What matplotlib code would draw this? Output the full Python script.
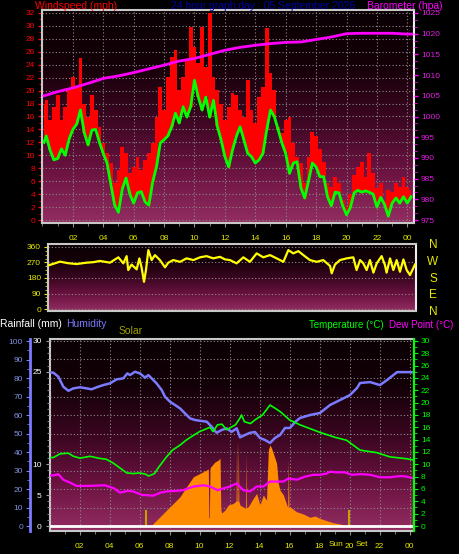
import numpy as np
import matplotlib
matplotlib.use('Agg')
from matplotlib import pyplot as plt
from matplotlib.colors import LinearSegmentedColormap
from matplotlib.ticker import MultipleLocator

W, H = 460, 554

# ---------------- data ----------------
# wind (mph), sampled every quarter hour
wind_hr = [0.1, 0.25, 0.5, 0.75, 1.0, 1.25, 1.5, 1.75, 2.0, 2.25, 2.5, 2.75, 3.0, 3.25, 3.5, 3.75,
           4.0, 4.25, 4.5, 4.75, 5.0, 5.25, 5.5, 5.75, 6.0, 6.25, 6.5, 6.75, 7.0, 7.25, 7.5, 7.75,
           8.0, 8.25, 8.5, 8.75, 9.0, 9.25, 9.5, 9.75, 10.0, 10.25, 10.5, 10.75, 11.0, 11.25, 11.5, 11.75,
           12.0, 12.25, 12.5, 12.75, 13.0, 13.25, 13.5, 13.75, 14.0, 14.25, 14.5, 14.75, 15.0, 15.25, 15.5, 15.75,
           16.0, 16.25, 16.5, 16.75, 17.0, 17.25, 17.5, 17.75, 18.0, 18.25, 18.5, 18.75, 19.0, 19.25, 19.5, 19.75,
           20.0, 20.25, 20.5, 20.75, 21.0, 21.25, 21.5, 21.75, 22.0, 22.25, 22.5, 22.75, 23.0, 23.25, 23.5, 23.75,
           24.0, 24.25]
wind_avg = [12.0, 13.0, 10.8, 9.3, 9.5, 11.0, 10.0, 12.5, 14.0, 14.8, 17.0, 13.5, 11.6, 13.9, 14.0, 12.0,
            10.3, 8.8, 5.5, 2.3, 1.2, 4.8, 6.5, 4.0, 2.6, 4.2, 4.4, 2.8, 2.3, 5.9, 8.2, 11.9,
            12.4, 13.0, 14.4, 16.5, 15.0, 17.5, 15.9, 17.5, 21.6, 19.0, 17.0, 19.0, 15.9, 18.5, 14.5, 12.4,
            9.8, 8.2, 10.8, 12.9, 14.4, 12.4, 10.3, 9.8, 8.8, 9.3, 10.3, 13.9, 17.0, 16.0, 14.0, 11.9,
            10.3, 7.2, 8.8, 9.0, 5.0, 3.4, 6.0, 8.8, 8.2, 6.7, 6.7, 3.6, 2.2, 4.3, 4.2, 2.2,
            0.8, 1.9, 4.2, 4.6, 4.3, 4.5, 4.3, 4.0, 2.0, 3.5, 2.4, 0.6, 2.6, 3.4, 2.6, 3.6,
            2.6, 3.6]
wind_gust = [18.0, 18.5, 15.5, 17.5, 19.3, 15.5, 17.5, 20.1, 22.1, 20.5, 25.0, 18.0, 15.9, 19.3, 17.0, 14.4,
             11.9, 10.3, 8.8, 5.7, 7.7, 11.3, 10.3, 7.2, 8.2, 9.8, 7.7, 9.3, 10.3, 11.9, 15.9, 20.6,
             17.0, 22.1, 25.2, 26.3, 20.1, 22.1, 24.7, 29.8, 26.7, 24.3, 29.8, 23.7, 32.0, 22.1, 20.1, 18.0,
             15.5, 17.5, 19.6, 19.3, 17.0, 15.9, 21.6, 17.0, 15.0, 19.0, 20.6, 29.7, 22.7, 20.1, 14.4, 13.4,
             15.5, 15.9, 11.9, 9.8, 8.8, 5.7, 9.8, 13.6, 13.0, 11.0, 9.0, 5.7, 5.1, 6.7, 5.7, 3.1,
             2.0, 4.0, 7.0, 8.2, 9.0, 6.7, 10.3, 7.2, 5.0, 5.7, 3.0, 4.6, 4.4, 5.7, 5.1, 6.7,
             5.1, 4.6]

# barometer (hPa)
baro_hr = [0.1, 1, 2, 3, 4, 5, 6, 7, 8, 9, 10, 11, 12, 13, 14, 15, 16, 17, 18, 19, 20, 21, 22, 23, 24, 24.3]
baro = [1005.0, 1006.0, 1006.9, 1008.0, 1009.2, 1009.8, 1010.6, 1011.5, 1012.4, 1013.4, 1014.0, 1015.0,
        1016.0, 1016.7, 1017.2, 1017.6, 1017.9, 1018.0, 1018.6, 1019.2, 1020.0, 1020.1, 1020.1, 1020.1,
        1019.9, 1019.9]

# wind direction (degrees)
dir_hr = [0.05, 0.21, 0.77, 1.3, 1.88, 2.54, 3.0, 3.43, 4.1, 4.66, 4.99, 5.21, 5.32, 5.54, 5.88, 6.06,
          6.21, 6.37, 6.5, 6.66, 6.88, 7.1, 7.43, 7.77, 7.99, 8.32, 8.77, 9.21, 9.66, 10.1, 10.54, 10.99,
          11.43, 11.77, 12.1, 12.54, 12.99, 13.43, 13.88, 14.32, 14.77, 15.21, 15.66, 15.99, 16.32, 16.66,
          16.99, 17.43, 17.88, 18.32, 18.77, 18.88, 19.1, 19.43, 19.88, 20.32, 20.54, 20.77, 20.99, 21.21,
          21.43, 21.66, 21.88, 22.21, 22.43, 22.54, 22.77, 22.99, 23.21, 23.43, 23.66, 23.88, 24.1, 24.28, 24.43]
dir_deg = [255, 259, 275, 266, 261, 269, 272, 279, 269, 300, 265, 307, 226, 258, 230, 294,
           240, 158, 226, 342, 284, 313, 284, 242, 269, 284, 274, 294, 284, 300, 307, 294,
           303, 288, 284, 265, 300, 274, 323, 300, 313, 294, 274, 342, 323, 336,
           313, 284, 274, 284, 250, 207, 258, 284, 294, 300, 226, 284, 265, 226,
           284, 211, 265, 307, 255, 211, 294, 226, 284, 216, 288, 226, 197, 230, 258]

# humidity (%)
hum_hr = [0.0, 0.26, 0.59, 0.92, 1.26, 1.59, 2.03, 2.48, 2.81, 3.14, 3.59, 4.03, 4.48, 4.92, 5.19, 5.37,
          5.7, 6.03, 6.37, 6.59, 6.81, 7.14, 7.48, 7.7, 8.03, 8.37, 8.7, 9.03, 9.37, 9.7, 10.03, 10.48,
          10.81, 11.14, 11.48, 11.81, 12.14, 12.48, 12.7, 13.03, 13.37, 13.7, 14.03, 14.37, 14.7, 15.03,
          15.37, 15.7, 16.03, 16.37, 16.7, 17.37, 18.03, 18.7, 19.37, 20.03, 20.5, 20.7, 21.37, 22.03,
          22.5, 23.17, 24.03, 24.25]
humidity = [83.0, 82.9, 80.7, 75.3, 73.1, 74.4, 75.0, 74.4, 73.9, 75.0, 76.2, 77.1, 79.3, 79.8, 82.5, 81.6,
            83.4, 82.5, 80.2, 81.6, 79.8, 77.1, 73.5, 69.9, 67.2, 65.4, 63.6, 60.9, 58.2, 57.3, 56.9, 56.4,
            53.7, 50.4, 51.9, 52.8, 50.9, 52.8, 47.9, 49.2, 50.4, 50.8, 47.6, 46.5, 44.9, 47.6,
            49.2, 53.0, 53.0, 56.2, 58.4, 60.0, 61.1, 65.4, 68.1, 70.8, 74.6, 77.3, 77.8, 76.2,
            78.9, 83.2, 83.2, 83.0]

# temperature (degC)
temp_hr = [0.0, 0.26, 0.7, 1.26, 1.59, 2.03, 2.7, 3.25, 3.8, 4.25, 4.7, 5.15, 5.6, 6.0, 6.4, 6.6,
           7.0, 7.3, 7.8, 8.2, 8.7, 9.1, 9.6, 10.0, 10.5, 10.7, 10.9, 11.2, 11.5, 11.8, 12.1, 12.4,
           12.7, 12.8, 13.0, 13.4, 13.7, 14.2, 14.7, 15.03, 15.4, 16.0, 16.7, 18.0, 19.0, 19.8, 20.7,
           21.8, 22.7, 23.8, 24.25]
temperature = [11.1, 11.1, 11.7, 11.8, 11.3, 11.0, 11.3, 11.0, 10.8, 10.2, 9.4, 8.6, 8.5, 8.6, 8.4, 8.1,
               8.5, 9.6, 11.2, 12.3, 13.1, 13.9, 14.7, 15.3, 15.8, 16.0, 15.3, 16.4, 16.5, 15.6, 16.0, 16.4,
               17.5, 18.0, 16.9, 16.6, 17.2, 18.0, 19.6, 19.1, 18.5, 17.2, 16.4, 15.2, 14.4, 13.9, 12.3,
               11.9, 11.2, 10.9, 10.7]

# dew point (degC)
dew_hr = [0.0, 0.26, 0.59, 0.92, 1.4, 1.8, 2.6, 3.7, 4.3, 4.7, 5.2, 5.6, 6.2, 6.5, 6.9, 7.4,
          7.8, 8.5, 8.9, 9.6, 10.3, 10.7, 11.2, 11.6, 12.03, 12.48, 12.92, 13.37, 13.81, 14.26, 14.7,
          15.14, 15.59, 15.92, 16.48, 17.03, 17.59, 18.03, 18.48, 18.7, 19.14, 19.7, 20.14, 20.81, 21.37,
          22.03, 22.7, 23.37, 23.81, 24.14, 24.25]
dew_point = [8.2, 8.2, 8.4, 7.5, 7.0, 6.5, 6.5, 6.6, 6.1, 5.4, 5.7, 5.6, 5.0, 5.0, 4.9, 5.4,
             5.6, 5.7, 5.8, 6.4, 6.6, 6.4, 5.8, 6.1, 6.4, 6.9, 5.8, 5.6, 6.4, 6.4, 7.2,
             7.2, 7.2, 7.7, 7.5, 8.0, 8.3, 8.3, 8.5, 8.8, 8.7, 8.7, 8.3, 8.4, 8.3,
             7.9, 7.9, 8.1, 8.0, 7.8, 7.8]

# solar radiation (W/m2)
solar_hr = [6.81, 7.37, 7.81, 8.26, 8.7, 9.14, 9.59, 10.03, 10.48, 10.59, 10.62, 10.66, 10.7, 10.74, 11.03,
            11.26, 11.37, 11.42, 11.48, 11.7, 11.92, 12.25, 12.44, 12.47, 12.5, 12.56, 12.59, 12.62, 12.7,
            13.03, 13.07, 13.1, 13.13, 13.25, 13.59, 13.81, 14.03, 14.25, 14.47, 14.59, 14.7, 14.81,
            14.92, 15.14, 15.25, 15.36, 15.59, 15.88, 15.92, 15.96, 16.03, 16.47, 16.92, 17.36, 17.7,
            18.03, 18.47, 18.92, 19.36, 19.59, 19.8]
solar = [5, 50, 86, 122, 158, 212, 266, 284, 303, 308, 43, 46, 313, 319, 346,
         356, 368, 90, 70, 86, 113, 122, 135, 465, 135, 135, 465, 135, 113,
         97, 97, 395, 97, 104, 150, 176, 113, 167, 140, 411, 438, 420,
         393, 339, 232, 195, 168, 100, 357, 100, 104, 77, 65, 47, 54,
         41, 29, 18, 11, 4, 0]

rain_hr = [0.0, 24.25]
rain = [0.0, 0.0]

hour_ticks = [2, 4, 6, 8, 10, 12, 14, 16, 18, 20, 22, 24]
hour_labels = ['02', '04', '06', '08', '10', '12', '14', '16', '18', '20', '22', '00']
sunrise_hr, sunset_hr = 6.41, 19.97

# ---------------- style ----------------
BG = LinearSegmentedColormap.from_list('bg', ['#932d62', '#6a1240', '#3a0620', '#140008', '#0a0004'])
FRAME = '#c8c8c8'
GRIDC = '#8a8a8a'
YELLOW = '#e8e800'
FONT = 'Liberation Sans'

plt.rcParams['font.family'] = FONT


def px_rect(x0, y0, x1, y1):
    return [x0 / W, 1 - y1 / H, (x1 - x0) / W, (y1 - y0) / H]


def ftext(x, y, s, color, size=7.5, ha='left', va='center'):
    fig.text(x / W, 1 - y / H, s, color=color, fontsize=size, ha=ha, va=va)


def panel(rect):
    ax = fig.add_axes(rect)
    grad = np.linspace(0, 1, 256).reshape(-1, 1)
    ax.imshow(grad, extent=[0, 1, 0, 1], transform=ax.transAxes, cmap=BG,
              aspect='auto', origin='lower', zorder=0, interpolation='nearest')
    ax.set_facecolor('black')
    for s in ax.spines.values():
        s.set_color(FRAME)
        s.set_linewidth(1.5)
    ax.spines['right'].set_color('#eeeeee')
    return ax


def hide_ticks(ax):
    ax.tick_params(left=False, right=False, top=False, bottom=False,
                   labelleft=False, labelright=False, labelbottom=False, labeltop=False)
    for s in ax.spines.values():
        s.set_visible(False)
    ax.patch.set_visible(False)


fig = plt.figure(figsize=(W / 100, H / 100), dpi=100, facecolor='black')

# ---------------- wind / barometer ----------------
ax1 = panel(px_rect(42, 10, 414, 223))
ax1.fill_between(wind_hr, wind_avg, wind_gust, step='mid', color='#ff0000', lw=0, zorder=2)
ax1.plot(wind_hr, wind_avg, color='#00ff00', lw=2, zorder=3)
ax1.set_xlim(-0.03, 24.44)
ax1.set_ylim(-0.46, 32.46)
ax1.set_xticks(hour_ticks)
ax1.set_xticklabels(hour_labels)
ax1.xaxis.set_minor_locator(MultipleLocator(1))
ax1.set_yticks(range(0, 33, 2))
ax1.yaxis.set_minor_locator(MultipleLocator(1))
ax1.grid(True, which='major', color=GRIDC, linestyle=(0, (1, 2)), linewidth=0.8)
ax1.tick_params(axis='y', colors='#ff0000', labelsize=6, length=3, width=1, pad=2)
ax1.tick_params(axis='y', which='minor', colors='#ff0000', length=2)
ax1.tick_params(axis='x', colors='#909090', labelcolor=YELLOW, labelsize=6, length=3, pad=6)
ax1.tick_params(axis='x', which='minor', colors='#909090', length=2)

ax1b = ax1.twinx()
ax1b.plot(baro_hr, baro, color='#ff00ff', lw=2)
ax1b.set_ylim(975 - 0.46 * 1.5625, 975 + 32.46 * 1.5625)
ax1b.set_yticks(range(975, 1026, 5))
ax1b.yaxis.set_minor_locator(MultipleLocator(5 / 3))
ax1b.tick_params(axis='y', colors='#ff00ff', labelcolor='#e020e0', labelsize=6, length=3, width=1, pad=2)
ax1b.tick_params(axis='y', which='minor', colors='#ff00ff', length=2)
for s in ax1b.spines.values():
    s.set_visible(False)

# ---------------- wind direction ----------------
ax2 = panel(px_rect(48, 244, 416, 311))
ax2.plot(dir_hr, dir_deg, color='#ffff00', lw=1.6, zorder=3)
ax2.set_xlim(-0.03, 24.5)
ax2.set_ylim(-11.6, 377.4)
ax2.set_xticks(hour_ticks)
ax2.set_yticks([0, 90, 180, 270, 360])
ax2.yaxis.set_minor_locator(MultipleLocator(22.5))
ax2.grid(True, which='major', axis='y', color=GRIDC, linestyle=(0, (1, 2)), linewidth=0.8)
ax2.tick_params(axis='y', colors=YELLOW, labelsize=6, length=3, pad=2)
ax2.tick_params(axis='y', which='minor', colors=YELLOW, length=2)
ax2.tick_params(axis='x', bottom=False, labelbottom=False)
for i, c in enumerate(['N', 'W', 'S', 'E', 'N']):
    ftext(433, 245 + i * 16.8, c, YELLOW, size=8.5, ha='center')

# ---------------- solar / humidity / temperature ----------------
ax3 = panel(px_rect(50, 339, 414, 531))
ax3.fill_between(solar_hr, 0, solar, color='#ff8c00', lw=0, zorder=2)
ax3.vlines([sunrise_hr, sunset_hr], 0, 86, color='#c8a000', lw=1.5, zorder=2)
ax3.set_xlim(0.033, 24.3)
ax3.set_ylim(-27, 1010.8)
ax3.set_xticks(hour_ticks)
ax3.set_xticklabels(hour_labels)
ax3.xaxis.set_minor_locator(MultipleLocator(1))
ax3.set_yticks(np.linspace(0, 1000, 11))
ax3.grid(True, which='major', color=GRIDC, linestyle=(0, (1, 2)), linewidth=0.8)
ax3.tick_params(axis='y', left=False, labelleft=False)
ax3.tick_params(axis='x', colors='#909090', labelcolor=YELLOW, labelsize=6, length=3, pad=6)
ax3.tick_params(axis='x', which='minor', colors='#909090', length=2)

# rainfall scale (inner left)
ax_rain = ax3.twinx()
ax_rain.plot(rain_hr, rain, color='white', lw=2)
ax_rain.set_ylim(-0.81, 30.31)
hide_ticks(ax_rain)
ax_rain.tick_params(left=True, labelleft=True)
ax_rain.yaxis.set_label_position('left')
ax_rain.yaxis.tick_left()
ax_rain.set_yticks([0, 5, 10, 25, 30])
ax_rain.yaxis.set_minor_locator(MultipleLocator(1))
ax_rain.tick_params(axis='y', colors='#a0a0a0', labelcolor='white', labelsize=6, length=3, pad=3)
ax_rain.tick_params(axis='y', which='minor', colors='#a0a0a0', length=2)
ax_rain.set_xlim(0.033, 24.3)

# humidity
ax_hum = ax3.twinx()
ax_hum.plot(hum_hr, humidity, color='#7b7bff', lw=1.8)
ax_hum.set_ylim(-2.7, 101.1)
ax_hum.set_xlim(0.033, 24.3)
hide_ticks(ax_hum)

# temperature and dew point (right scale)
ax_tmp = ax3.twinx()
ax_tmp.plot(dew_hr, dew_point, color='#ff00ff', lw=1.6)
ax_tmp.plot(temp_hr, temperature, color='#00ff00', lw=1.2)
ax_tmp.set_ylim(-0.81, 30.31)
ax_tmp.set_xlim(0.033, 24.3)
for s in ax_tmp.spines.values():
    s.set_visible(False)
ax_tmp.spines['right'].set_visible(True)
ax_tmp.spines['right'].set_color('#00ff00')
ax_tmp.spines['right'].set_linewidth(1.5)
ax_tmp.set_yticks(range(0, 31, 2))
ax_tmp.yaxis.set_minor_locator(MultipleLocator(1))
ax_tmp.tick_params(axis='y', colors='#00ff00', labelsize=6, length=3, pad=2)
ax_tmp.tick_params(axis='y', which='minor', colors='#00ff00', length=2)

# outer humidity axis
ax_h = fig.add_axes(px_rect(30, 339, 30.5, 531))
ax_h.set_ylim(-2.7, 101.1)
for s in ax_h.spines.values():
    s.set_visible(False)
ax_h.spines['left'].set_visible(True)
ax_h.spines['left'].set_color('#7b7bff')
ax_h.spines['left'].set_linewidth(2)
ax_h.patch.set_visible(False)
ax_h.set_xticks([])
ax_h.set_yticks(range(0, 101, 10))
ax_h.yaxis.set_minor_locator(MultipleLocator(5))
ax_h.tick_params(axis='y', colors='#7b7bff', labelcolor='#8090e0', labelsize=6, length=3, pad=2)
ax_h.tick_params(axis='y', which='minor', colors='#7b7bff', length=2)

# ---------------- titles ----------------
ftext(35, 6, 'Windspeed (mph)', '#ff0000')
ftext(171, 6, '24 hour graph day : 05 September 2026', '#0000a8')
ftext(367, 6, 'Barometer (hpa)', '#ff00ff')
ftext(0, 324, 'Rainfall (mm)', 'white')
ftext(66, 324, 'Humidity', '#7b7bff')
ftext(119, 331, 'Solar', '#a0a000')
ftext(309, 325, 'Temperature (\u00b0C)', '#00ff00', size=7)
ftext(389, 325, 'Dew Point (\u00b0C)', '#ff00ff', size=7)
ftext(344, 545, 'Sun', YELLOW, size=6, ha='right')
ftext(356, 545, 'Set', YELLOW, size=6, ha='left')

fig.savefig('out.png', dpi=100, facecolor='black')
